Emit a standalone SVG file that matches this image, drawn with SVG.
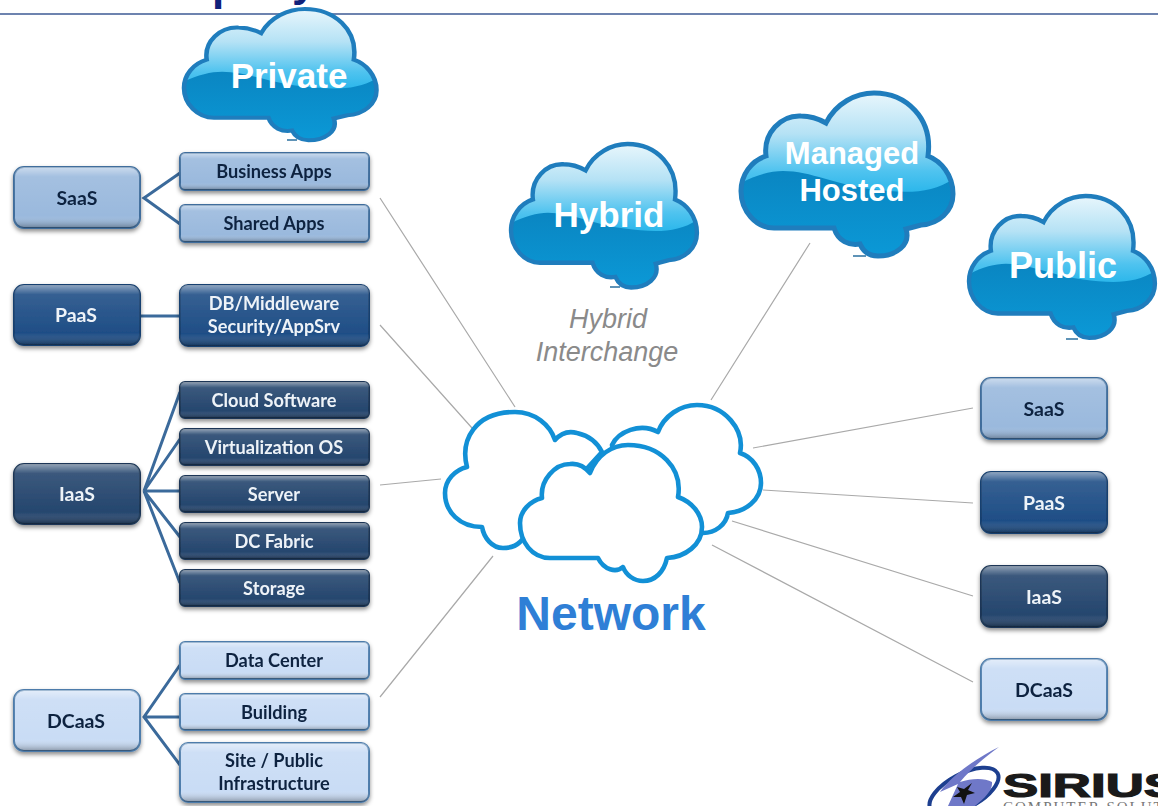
<svg xmlns="http://www.w3.org/2000/svg" width="1158" height="806" viewBox="0 0 1158 806">
<style>
.lbl{font-family:Lato,"Open Sans",sans-serif;font-weight:700;font-size:18.2px;text-anchor:middle}
.big{font-size:19.5px}
.dk{fill:#0f2440}.lt{fill:#eef3f8}
.cl{font-family:"Liberation Sans",Arial,sans-serif;font-weight:700;fill:#fff;text-anchor:middle}
.thin{stroke:#a9a9a9;stroke-width:1.2;fill:none}
.thick{stroke:#3b6a9b;stroke-width:3;fill:none}
.net{fill:#fff;stroke:#1290d6;stroke-width:4.6;stroke-linejoin:round}
.s{fill:#9ab9dd;stroke:#3f6d9c}.p{fill:#1f4e86;stroke:#18406f}.i{fill:#25466e;stroke:#1b3656}.d{fill:#c9dcf5;stroke:#4d7cab}
.bx{stroke-width:2}
.gl{fill:url(#gloss)}
.dash{stroke:#2a6f9f;stroke-width:1.5}
</style>
<defs>
<linearGradient id="gloss" x1="0" y1="0" x2="0" y2="1">
<stop offset="0" stop-color="#fff" stop-opacity=".5"/><stop offset=".16" stop-color="#fff" stop-opacity=".1"/><stop offset=".8" stop-color="#fff" stop-opacity="0"/><stop offset="1" stop-color="#000" stop-opacity=".32"/>
</linearGradient>
<linearGradient id="sky" x1="0" y1="0" x2="0" y2="1">
<stop offset="0" stop-color="#e8f6fc"/><stop offset=".25" stop-color="#b5e2f5"/><stop offset=".48" stop-color="#4fc3ef"/><stop offset=".7" stop-color="#12aee8"/><stop offset="1" stop-color="#1aa8e0"/>
</linearGradient>
<linearGradient id="deep" x1="0" y1="0" x2="0" y2="1">
<stop offset="0" stop-color="#0a86c2"/><stop offset="1" stop-color="#0b9ad8"/>
</linearGradient>
<filter id="sh" x="-10%" y="-10%" width="120%" height="130%"><feDropShadow dx="0" dy="2.5" stdDeviation="2" flood-color="#000" flood-opacity=".45"/></filter>
<path id="cp" d="M85,30 C95,10 115,0 133,0 C165,0 192,25 187,63 C200,68 212,82 212,101 C212,118 198,131 180,132 L165,136 C170,152 155,163 137,163 C128,163 122,158 119,151 C108,153 97,148 93,135 L33,135 C15,135 0,118 0,98 C0,82 10,68 25,63 C22,40 40,22 60,23 C70,23 78,26 85,30 Z"/>
<clipPath id="cc"><use href="#cp"/></clipPath>
<g id="cloud">
<use href="#cp" fill="url(#sky)"/>
<path clip-path="url(#cc)" fill="url(#deep)" d="M0,90 C15,82 30,78 42,78 C70,78 95,92 130,96 C160,100 190,102 212,86 L212,170 L0,170 Z"/>
<use href="#cp" fill="none" stroke="#1f7dbd" stroke-width="5"/>
</g>
</defs>
<rect width="1158" height="806" fill="#fff"/>
<g id="title">
<text x="212" y="0" font-family="'Liberation Sans',sans-serif" font-weight="700" font-size="44" fill="#10217a">p</text>
<text x="292" y="-4" font-family="'Liberation Sans',sans-serif" font-weight="700" font-size="44" fill="#10217a">y</text>
<line x1="0" y1="14" x2="1158" y2="14" stroke="#3c5a94" stroke-width="1.6"/>
</g>
<g id="connectors">
<path class="thin" d="M380,198L515,407M380,325L472,428M380,485L441,479M380,697L493,556M810,243L711,400M753,448L973,408M763,490L973,503M732,521L973,596M712,545L973,682"/>
<path class="thick" d="M180,173L144,198L180,224M141,316H180M180,392L144,491L180,439M144,491H180M180,537L144,491L180,583M180,665L144,717L180,765M144,717H180"/>
</g>
<g id="cloud-private"><use href="#cloud" transform="translate(184,9) scale(.908,.805)"/><line class="dash" x1="287" y1="140" x2="297" y2="140"/><text class="cl" x="289" y="88" font-size="35">Private</text></g>
<g id="cloud-hybrid"><use href="#cloud" transform="translate(511,144) scale(.877,.88)"/><line class="dash" x1="610" y1="287" x2="620" y2="287"/><text class="cl" x="609" y="227" font-size="35">Hybrid</text></g>
<g id="cloud-managed"><use href="#cloud" transform="translate(741,93)"/><line class="dash" x1="853" y1="256" x2="866" y2="256"/><text class="cl" x="852" y="164" font-size="31">Managed</text><text class="cl" x="852" y="201" font-size="31">Hosted</text></g>
<g id="cloud-public"><use href="#cloud" transform="translate(969,196) scale(.877,.87)"/><line class="dash" x1="1066" y1="339" x2="1078" y2="339"/><text class="cl" x="1063" y="278" font-size="36">Public</text></g>
<g id="hybrid-interchange" font-family="'Liberation Sans',sans-serif" font-style="italic" font-size="27" fill="#8a8a8a" text-anchor="middle"><text x="608" y="328">Hybrid</text><text x="607" y="361">Interchange</text></g>
<g id="network">
<path class="net" d="M612,445 C618,432 640,422 658,432 C664,416 680,405 697,405 C725,405 745,430 740,453 C753,457 761,470 761,483 C761,500 745,512 728,513 C726,525 715,533 703,533 L620,500 Z"/>
<path class="net" d="M555,440 C562,432 570,431 577,433 C590,436 598,444 602,452 L520,542 C515,547 510,548 503,548 C492,548 484,538 482,527 C460,527 445,512 445,493 C445,480 455,470 467,467 C460,440 475,412 515,412 C535,412 550,425 555,440 Z"/>
<path class="net" d="M590,473 C597,455 612,445 628,445 C660,445 683,468 678,497 C692,502 702,514 702,527 C702,545 685,557 667,558 C664,572 655,581 643,581 C634,581 626,575 623,567 C616,573 604,570 598,558 L550,558 C532,558 520,542 520,523 C520,511 530,501 542,498 C540,480 555,464 570,464 C578,463 585,467 590,473 Z"/>
<text x="611" y="630" font-family="'Liberation Sans',sans-serif" font-weight="700" font-size="48" fill="#2f7fd6" text-anchor="middle">Network</text>
</g>
<g id="left-nodes" filter="url(#sh)">
<g id="l-saas"><rect class="bx s" x="14" y="167" width="126" height="61" rx="10"/><rect class="gl" x="14" y="167" width="126" height="61" rx="10"/><text class="lbl big dk" x="77" y="205">SaaS</text></g>
<g id="l-business"><rect class="bx s" x="180" y="153" width="189" height="37" rx="5"/><rect class="gl" x="180" y="153" width="189" height="37" rx="5"/><text class="lbl dk" x="274" y="178">Business Apps</text></g>
<g id="l-shared"><rect class="bx s" x="180" y="205" width="189" height="37" rx="5"/><rect class="gl" x="180" y="205" width="189" height="37" rx="5"/><text class="lbl dk" x="274" y="230">Shared Apps</text></g>
<g id="l-paas"><rect class="bx p" x="14" y="285" width="126" height="60" rx="10"/><rect class="gl" x="14" y="285" width="126" height="60" rx="10"/><text class="lbl big lt" x="76" y="322">PaaS</text></g>
<g id="l-db"><rect class="bx p" x="180" y="285" width="189" height="61" rx="8"/><rect class="gl" x="180" y="285" width="189" height="61" rx="8"/><text class="lbl lt" x="274" y="310">DB/Middleware</text><text class="lbl lt" x="274" y="333">Security/AppSrv</text></g>
<g id="l-iaas"><rect class="bx i" x="14" y="464" width="126" height="60" rx="10"/><rect class="gl" x="14" y="464" width="126" height="60" rx="10"/><text class="lbl big lt" x="77" y="501">IaaS</text></g>
<g id="l-cloudsw"><rect class="bx i" x="180" y="382" width="189" height="36" rx="5"/><rect class="gl" x="180" y="382" width="189" height="36" rx="5"/><text class="lbl lt" x="274" y="407">Cloud Software</text></g>
<g id="l-virt"><rect class="bx i" x="180" y="429" width="189" height="36" rx="5"/><rect class="gl" x="180" y="429" width="189" height="36" rx="5"/><text class="lbl lt" x="274" y="454">Virtualization OS</text></g>
<g id="l-server"><rect class="bx i" x="180" y="476" width="189" height="36" rx="5"/><rect class="gl" x="180" y="476" width="189" height="36" rx="5"/><text class="lbl lt" x="274" y="501">Server</text></g>
<g id="l-fabric"><rect class="bx i" x="180" y="523" width="189" height="36" rx="5"/><rect class="gl" x="180" y="523" width="189" height="36" rx="5"/><text class="lbl lt" x="274" y="548">DC Fabric</text></g>
<g id="l-storage"><rect class="bx i" x="180" y="570" width="189" height="36" rx="5"/><rect class="gl" x="180" y="570" width="189" height="36" rx="5"/><text class="lbl lt" x="274" y="595">Storage</text></g>
<g id="l-dcaas"><rect class="bx d" x="14" y="690" width="126" height="61" rx="10"/><rect class="gl" x="14" y="690" width="126" height="61" rx="10"/><text class="lbl big dk" x="76" y="728">DCaaS</text></g>
<g id="l-datacenter"><rect class="bx d" x="180" y="642" width="189" height="37" rx="5"/><rect class="gl" x="180" y="642" width="189" height="37" rx="5"/><text class="lbl dk" x="274" y="667">Data Center</text></g>
<g id="l-building"><rect class="bx d" x="180" y="694" width="189" height="36" rx="5"/><rect class="gl" x="180" y="694" width="189" height="36" rx="5"/><text class="lbl dk" x="274" y="719">Building</text></g>
<g id="l-site"><rect class="bx d" x="180" y="743" width="189" height="59" rx="8"/><rect class="gl" x="180" y="743" width="189" height="59" rx="8"/><text class="lbl dk" x="274" y="767">Site / Public</text><text class="lbl dk" x="274" y="790">Infrastructure</text></g>
</g>
<g id="right-nodes" filter="url(#sh)">
<g id="r-saas"><rect class="bx s" x="981" y="378" width="126" height="61" rx="10"/><rect class="gl" x="981" y="378" width="126" height="61" rx="10"/><text class="lbl big dk" x="1044" y="416">SaaS</text></g>
<g id="r-paas"><rect class="bx p" x="981" y="472" width="126" height="61" rx="10"/><rect class="gl" x="981" y="472" width="126" height="61" rx="10"/><text class="lbl big lt" x="1044" y="510">PaaS</text></g>
<g id="r-iaas"><rect class="bx i" x="981" y="566" width="126" height="61" rx="10"/><rect class="gl" x="981" y="566" width="126" height="61" rx="10"/><text class="lbl big lt" x="1044" y="604">IaaS</text></g>
<g id="r-dcaas"><rect class="bx d" x="981" y="659" width="126" height="61" rx="10"/><rect class="gl" x="981" y="659" width="126" height="61" rx="10"/><text class="lbl big dk" x="1044" y="697">DCaaS</text></g>
</g>
<g id="logo">
<ellipse cx="964" cy="791" rx="38" ry="17" transform="rotate(-28 964 791)" fill="#fff" stroke="#1d3f8f" stroke-width="4"/>
<path d="M999,747 C978,757 952,775 940,792 L958,784 L948,806 L975,806 C985,798 993,790 992,782 C985,778 972,778 960,782 C972,768 985,757 999,747 Z" fill="#6f78c8"/>
<path d="M972,783 L968,790 L975,793 L967,795 L964,804 L961,797 L953,797 L960,792 L957,787 L964,789 Z" fill="#111"/>
<text transform="translate(1003,797) scale(1.6,1)" font-family="'Liberation Sans',sans-serif" font-weight="700" font-size="33" fill="#1a1a1a" stroke="#1a1a1a" stroke-width="1.2">SIRIUS</text>
<text x="1003" y="812" font-family="'Liberation Serif',serif" font-size="15" letter-spacing="2" fill="#777">COMPUTER SOLUTIONS</text>
</g>
</svg>
